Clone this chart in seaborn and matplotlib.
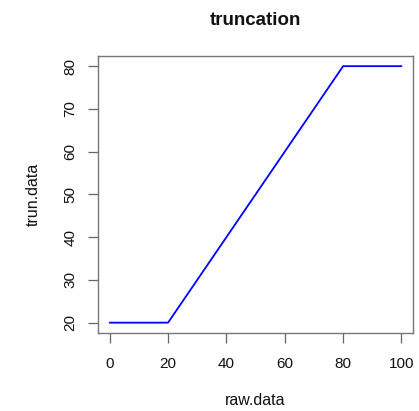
import matplotlib
matplotlib.use("Agg")
import matplotlib.pyplot as plt
import seaborn as sns
import pandas as pd

raw_data = [0, 20, 80, 100]
trun_data = [20, 20, 80, 80]
x_ticks = [0, 20, 40, 60, 80, 100]
y_ticks = [20, 30, 40, 50, 60, 70, 80]

sns.set_style("white")
plt.rcParams['font.family'] = ['Liberation Sans', 'DejaVu Sans']
plt.rcParams['text.color'] = '#111111'
plt.rcParams['axes.labelcolor'] = '#111111'
plt.rcParams['xtick.color'] = '#111111'
plt.rcParams['ytick.color'] = '#111111'

df = pd.DataFrame({"raw.data": raw_data, "trun.data": trun_data})

fig = plt.figure(figsize=(4.19, 4.11), dpi=100)
ax = fig.add_axes([0.234, 0.190, 0.752, 0.674])
sns.lineplot(data=df, x="raw.data", y="trun.data", ax=ax, color="#0000ff",
             linewidth=1.3, sort=False)

ax.set_xlim(-4, 104)
ax.set_ylim(20 - 2.4, 80 + 2.4)
ax.set_xticks(x_ticks)
ax.set_yticks(y_ticks)
ax.set_xticklabels([str(v) for v in x_ticks], fontsize=11)
ax.set_yticklabels([str(v) for v in y_ticks], fontsize=11, rotation=90, va="center")
ax.tick_params(axis="both", direction="out", length=7, width=0.9,
               bottom=True, left=True)
ax.tick_params(axis="both", color="#666666")
ax.tick_params(axis="x", pad=10)
ax.tick_params(axis="y", pad=8)
for s in ax.spines.values():
    s.set_visible(True)
    s.set_color("#777777")
    s.set_linewidth(1.0)

ax.set_xlabel("raw.data", fontsize=11.5, labelpad=16)
ax.set_ylabel("trun.data", fontsize=11.5, labelpad=16)
ax.set_title("truncation", fontsize=13.5, fontweight="bold", pad=22)

fig.savefig("out.png", dpi=100)
